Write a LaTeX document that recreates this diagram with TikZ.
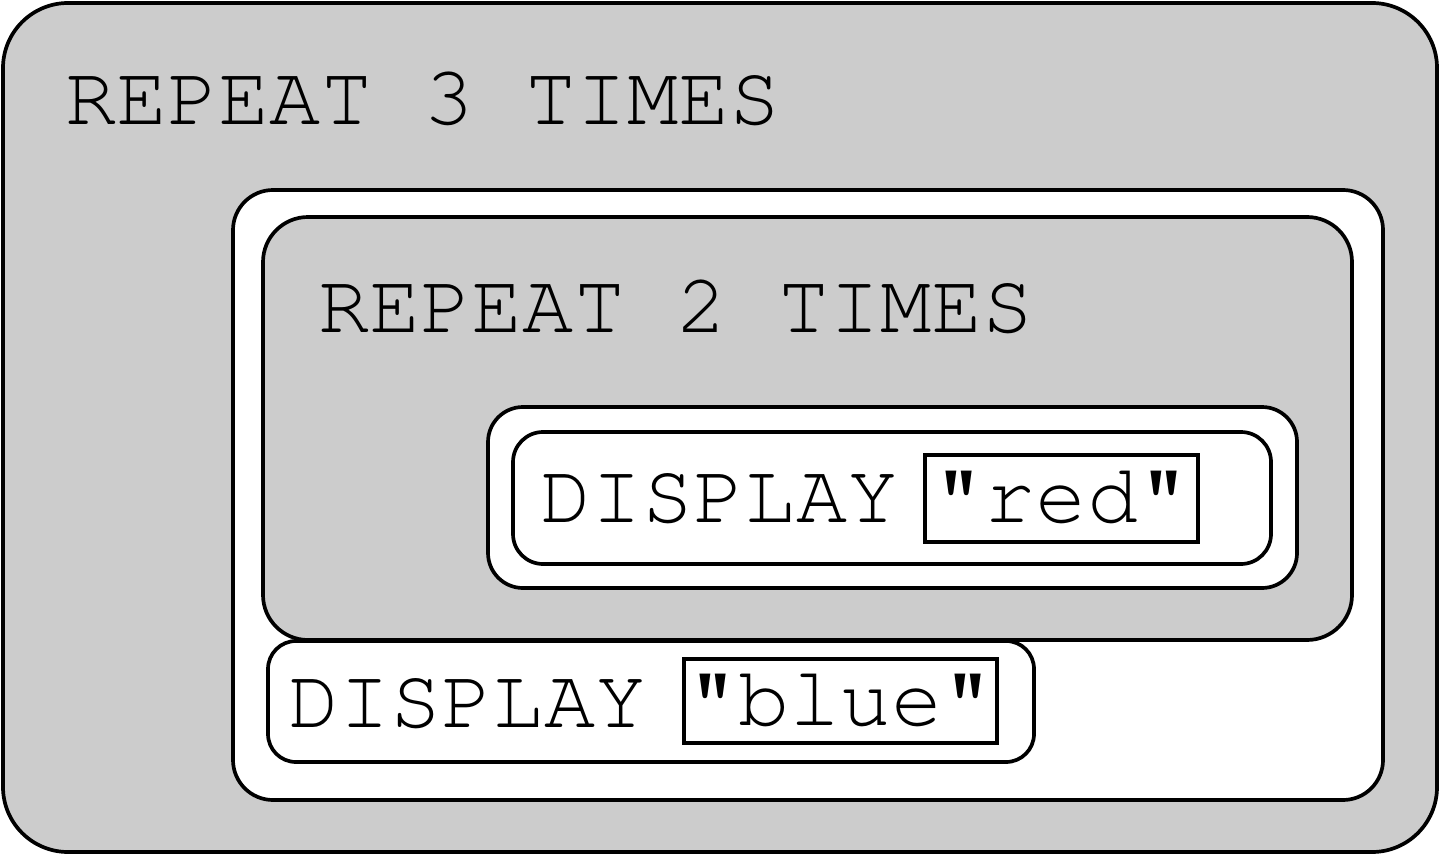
\documentclass[tikz,border=0pt]{standalone}
\usepackage[T1]{fontenc}
\definecolor{boxgray}{HTML}{CCCCCC}
\newcommand{\codefont}{\fontencoding{T1}\fontfamily{pcr}\fontsize{24.2}{28}\selectfont}
\tikzset{
    loopbox/.style={draw,fill=boxgray,line width=1.05pt},
    slotbox/.style={draw,fill=white,line width=1.05pt},
    code/.style={font=\codefont,anchor=base west,inner sep=0pt},
    valbox/.style={draw,fill=white,line width=1.05pt,font=\codefont,inner sep=0pt,
        text height=0.48cm,text depth=0pt},
}
\begin{document}
\begin{tikzpicture}[x=0.01cm,y=-0.01cm]
    \useasboundingbox (0,0) rectangle (1440,855);
    %% Outer loop
    \draw[loopbox,rounded corners=0.65cm] (3,3) rectangle (1437,852);
    \node[code] (rep3) at (65,125) {REPEAT 3 TIMES};
    \draw[slotbox,rounded corners=0.4cm] (233,190) rectangle (1383,800);
    %% Inner loop
    \draw[loopbox,rounded corners=0.45cm] (263,217) rectangle (1352,640);
    \node[code] (rep2) at (318,333) {REPEAT 2 TIMES};
    \draw[slotbox,rounded corners=0.35cm] (488,407) rectangle (1297,588);
    \draw[slotbox,rounded corners=0.3cm] (513,432) rectangle (1271,564);
    \node[code] (disp1) at (540,522) {DISPLAY};
    \node[valbox,minimum width=2.73cm,minimum height=0.87cm] (red) at (1061.5,498.5) {"red"};
    %% Second statement
    \draw[slotbox,rounded corners=0.28cm] (268,641) rectangle (1034,762);
    \node[code] (disp2) at (288,727) {DISPLAY};
    \node[valbox,minimum width=3.13cm,minimum height=0.84cm] (blue) at (840.5,701) {"blue"};
\end{tikzpicture}
\end{document}
